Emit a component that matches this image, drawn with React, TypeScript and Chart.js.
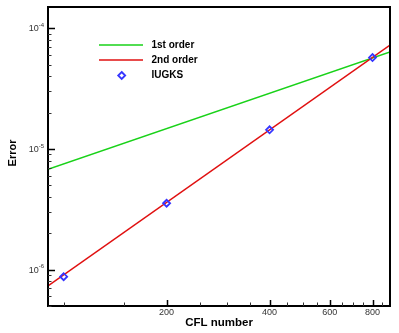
import React, { useEffect, useRef } from 'react';
import { Chart, registerables } from 'chart.js';

Chart.register(...registerables);

// ---- data ----
const lineCfl = [90, 900];
const firstOrderErr = [6.8e-6, 6.35e-5];
const secondOrderErr = [7.35e-7, 7.25e-5];
const iugksCfl = [100, 200, 400, 800];
const iugksErr = [8.75e-7, 3.55e-6, 1.44e-5, 5.72e-5];
const seriesLabels = ['1st order', '2nd order', 'IUGKS'];

// ---- axes ----
const xMin = 90;
const xMax = 900;
const yMin = 5e-7;
const yMax = 1.5e-4;
const xMajorTicks = [200, 400, 600, 800];
const xMinorTicks = [100, 150, 250, 300, 350, 450, 500, 550, 650, 700, 750, 850];
const yMajorTicks = [1e-6, 1e-5, 1e-4];
const yMajorExponents = ['-6', '-5', '-4'];
const yMinorTicks = [
  5e-7, 6e-7, 7e-7, 8e-7, 9e-7,
  2e-6, 3e-6, 4e-6, 5e-6, 6e-6, 7e-6, 8e-6, 9e-6,
  2e-5, 3e-5, 4e-5, 5e-5, 6e-5, 7e-5, 8e-5, 9e-5,
];
const xTitle = 'CFL number';
const yTitle = 'Error';

const GREEN = '#19d219';
const RED = '#e01010';
const BLUE = '#3535ff';
const FONT = '"Liberation Sans", Arial, Helvetica, sans-serif';

const tecplotPlugin = {
  id: 'tecplotAxes',
  afterDraw(chart: any) {
    const ctx = chart.ctx as CanvasRenderingContext2D;
    const area = chart.chartArea;
    const xs = chart.scales.x;
    const ys = chart.scales.y;
    ctx.save();

    // frame
    ctx.strokeStyle = '#000';
    ctx.lineWidth = 2;
    ctx.strokeRect(area.left, area.top, area.right - area.left, area.bottom - area.top);

    // ticks (inward)
    ctx.lineWidth = 1.5;
    ctx.beginPath();
    xMajorTicks.forEach((v) => {
      const px = Math.round(xs.getPixelForValue(v)) + 0.5;
      ctx.moveTo(px, area.bottom);
      ctx.lineTo(px, area.bottom - 6);
    });
    yMajorTicks.forEach((v) => {
      const py = Math.round(ys.getPixelForValue(v)) + 0.5;
      ctx.moveTo(area.left, py);
      ctx.lineTo(area.left + 7, py);
    });
    ctx.stroke();
    ctx.lineWidth = 1;
    ctx.strokeStyle = '#333';
    ctx.beginPath();
    xMinorTicks.forEach((v) => {
      const px = Math.round(xs.getPixelForValue(v)) + 0.5;
      ctx.moveTo(px, area.bottom);
      ctx.lineTo(px, area.bottom - 3.5);
    });
    yMinorTicks.forEach((v) => {
      const py = Math.round(ys.getPixelForValue(v)) + 0.5;
      ctx.moveTo(area.left, py);
      ctx.lineTo(area.left + 3.5, py);
    });
    ctx.stroke();

    // tick labels
    ctx.fillStyle = '#333';
    ctx.font = `9px ${FONT}`;
    ctx.textAlign = 'center';
    ctx.textBaseline = 'middle';
    xMajorTicks.forEach((v) => {
      ctx.fillText(String(v), xs.getPixelForValue(v), area.bottom + 7);
    });
    yMajorTicks.forEach((v, i) => {
      const py = ys.getPixelForValue(v);
      ctx.font = `6px ${FONT}`;
      const sup = yMajorExponents[i];
      const supW = ctx.measureText(sup).width;
      const right = area.left - 4;
      ctx.textAlign = 'left';
      ctx.fillText(sup, right - supW, py - 3);
      ctx.font = `9px ${FONT}`;
      ctx.textAlign = 'right';
      ctx.fillText('10', right - supW, py + 0.5);
    });

    // axis titles
    ctx.fillStyle = '#000';
    ctx.font = `bold 11.5px ${FONT}`;
    ctx.textAlign = 'center';
    ctx.textBaseline = 'middle';
    ctx.fillText(xTitle, (area.left + area.right) / 2, 323);
    ctx.save();
    ctx.translate(12.5, 153);
    ctx.rotate(-Math.PI / 2);
    ctx.font = `bold 11px ${FONT}`;
    ctx.fillText(yTitle, 0, 0);
    ctx.restore();

    // legend
    const rows = [45, 60, 75.5];
    chart.data.datasets.forEach((ds: any, i: number) => {
      const y = rows[i];
      if (ds.showLine !== false) {
        ctx.strokeStyle = ds.borderColor;
        ctx.lineWidth = 1.5;
        ctx.beginPath();
        ctx.moveTo(99, y);
        ctx.lineTo(143, y);
        ctx.stroke();
      } else {
        ctx.strokeStyle = ds.borderColor;
        ctx.lineWidth = 1.8;
        const r = 3.5;
        const cx = 121.7;
        ctx.beginPath();
        ctx.moveTo(cx, y - r);
        ctx.lineTo(cx + r, y);
        ctx.lineTo(cx, y + r);
        ctx.lineTo(cx - r, y);
        ctx.closePath();
        ctx.stroke();
      }
      ctx.fillStyle = '#000';
      ctx.font = `bold 10px ${FONT}`;
      ctx.textAlign = 'left';
      ctx.textBaseline = 'middle';
      ctx.fillText(ds.label, 151.5, y);
    });

    ctx.restore();
  },
};

export default function App() {
  const ref = useRef<HTMLCanvasElement | null>(null);

  useEffect(() => {
    if (!ref.current) return;
    document.body.style.margin = '0';
    const chart = new Chart(ref.current, {
      type: 'scatter',
      data: {
        datasets: [
          {
            label: seriesLabels[0],
            data: lineCfl.map((x, i) => ({ x, y: firstOrderErr[i] })),
            showLine: true,
            borderColor: GREEN,
            backgroundColor: GREEN,
            borderWidth: 1.5,
            pointRadius: 0,
            order: 2,
          },
          {
            label: seriesLabels[1],
            data: lineCfl.map((x, i) => ({ x, y: secondOrderErr[i] })),
            showLine: true,
            borderColor: RED,
            backgroundColor: RED,
            borderWidth: 1.5,
            pointRadius: 0,
            order: 1,
          },
          {
            label: seriesLabels[2],
            data: iugksCfl.map((x, i) => ({ x, y: iugksErr[i] })),
            showLine: false,
            borderColor: BLUE,
            backgroundColor: 'rgba(255,255,255,0)',
            borderWidth: 1.8,
            pointStyle: 'rectRot',
            pointRadius: 3.5,
            order: 0,
          },
        ],
      },
      options: {
        responsive: false,
        animation: false,
        layout: { padding: { top: 7, right: 9, left: 0, bottom: 0 } },
        plugins: { legend: { display: false }, tooltip: { enabled: false } },
        scales: {
          x: {
            type: 'logarithmic',
            min: xMin,
            max: xMax,
            grid: { display: false, drawTicks: false },
            border: { display: false },
            ticks: { display: false },
            afterFit: (s: any) => {
              s.height = 27;
            },
          },
          y: {
            type: 'logarithmic',
            min: yMin,
            max: yMax,
            grid: { display: false, drawTicks: false },
            border: { display: false },
            ticks: { display: false },
            afterFit: (s: any) => {
              s.width = 48;
            },
          },
        },
      },
      plugins: [tecplotPlugin],
    } as any);
    return () => chart.destroy();
  }, []);

  return (
    <div style={{ position: 'absolute', left: 0, top: 0, width: 399, height: 333, background: '#fff' }}>
      <canvas ref={ref} width={399} height={333} />
    </div>
  );
}
